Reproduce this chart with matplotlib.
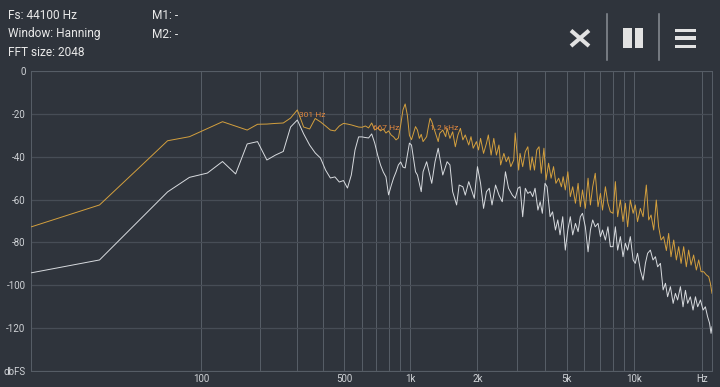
import numpy as np
import matplotlib
matplotlib.use("Agg")
import matplotlib.pyplot as plt
from matplotlib.patches import Rectangle
from matplotlib.lines import Line2D

# ---------------- data ----------------
FS = 44100
NFFT = 2048

orange_bins = list(range(0, 48)) + [
    48, 49, 50, 51, 52, 53, 55, 56, 57, 58, 60, 62, 63, 65, 67, 68, 70, 72, 74, 76, 78, 80,
    82, 85, 87, 89, 92, 94, 96, 99, 102, 104, 107, 110, 113, 116, 118, 122, 125, 128,
    131, 135, 137, 142, 144, 148, 152, 156, 160, 163, 167, 171, 175, 179, 184, 188,
    193, 198, 203, 208, 214, 220, 224, 229, 235, 241, 247, 254, 261, 267, 273, 281,
    289, 296, 303, 311, 320, 328, 335, 345, 354, 363, 373, 382, 391, 402, 413, 423,
    433, 445, 458, 468, 479, 493, 507, 524, 537, 550, 565, 580, 594, 609, 625, 643,
    658, 674, 693, 712, 729, 747, 767, 788, 807, 827, 849, 873, 894, 916, 941, 967,
    990, 1007, 1024]
orange_db = [
    -72.7, -62.5, -45.0, -32.5, -30.6, -26.8, -23.6, -25.7, -27.5, -24.8,
    -24.7, -24.4, -24.2, -21.9, -18.1, -26.1, -27.0, -22.1, -23.7, -25.6,
    -27.5, -27.9, -25.6, -24.4, -24.7, -25.1, -25.6, -26.1, -26.2, -25.6,
    -26.5, -24.2, -27.5, -26.5, -27.9, -27.0, -28.9, -27.9, -29.8, -30.7,
    -32.1, -31.2, -25.1, -18.1, -15.3, -20.5, -30.0, -32.0,
    -29.0, -25.9, -27.5, -31.4, -29.5, -32.9, -30.6, -26.0, -22.0, -23.5, -28.3, -32.9,
    -29.0, -27.5, -30.6, -26.7, -31.4, -28.3, -35.3, -29.8, -26.7, -32.1, -29.8,
    -34.5, -30.6, -36.0, -32.9, -36.8, -31.4, -38.4, -33.7, -29.8, -39.2, -31.4,
    -39.2, -34.5, -43.8, -38.4, -42.3, -40.0, -44.6, -41.5, -28.9, -46.2, -38.4,
    -44.6, -37.6, -35.3, -46.2, -40.0, -46.2, -36.8, -35.3, -47.7, -36.0, -50.8,
    -43.0, -50.0, -44.6, -52.4, -50.0, -54.0, -49.3, -55.5, -47.0, -58.6, -54.0,
    -61.7, -52.4, -63.3, -55.5, -64.1, -50.0, -62.5, -54.0, -47.7, -63.3, -57.1,
    -64.9, -54.0, -61.7, -65.7, -66.4, -51.6, -68.0, -60.2, -70.3, -61.7, -72.7,
    -60.2, -66.4, -62.5, -70.3, -64.1, -68.0, -53.2, -69.5, -67.2, -74.2, -60.2,
    -72.7, -78.9, -77.3, -83.8, -75.8, -86.7, -78.9, -88.2, -82.0, -89.8, -82.0,
    -91.4, -83.6, -90.6, -85.9, -92.9, -88.2, -93.7, -93.7, -95.2, -96.0, -99.1,
    -103.8]

white_bins = list(range(0, 48)) + [
    49, 50, 52, 53, 55, 58, 60, 62, 65, 68, 70, 72, 75, 77, 80, 82, 85, 88, 90, 93, 96,
    99, 102, 105, 108, 112, 116, 120, 124, 128, 133, 137, 141, 144, 148, 152, 156,
    160, 164, 168, 173, 177, 181, 186, 190, 196, 201, 207, 212, 217, 223, 229, 235,
    241, 247, 254, 261, 267, 273, 281, 289, 296, 303, 311, 320, 328, 335, 345, 354,
    363, 373, 382, 391, 402, 413, 423, 433, 445, 458, 468, 479, 493, 507, 519, 531,
    546, 561, 575, 588, 605, 622, 637, 651, 670, 689, 705, 721, 742, 762, 781, 799,
    821, 844, 865, 885, 910, 935, 957, 979, 999, 1014, 1024]
white_db = [
    -94.2, -88.2, -69.6, -56.4, -49.6, -47.6, -42.2, -48.0, -34.0, -32.9,
    -41.5, -39.2, -37.5, -26.1, -22.8, -29.3, -34.5, -38.2, -40.6, -46.2,
    -49.9, -49.4, -51.8, -51.1, -54.6, -48.5, -36.8, -30.7, -30.7, -31.0,
    -31.2, -29.3, -33.6, -39.2, -43.8, -47.1, -49.4, -57.8, -53.6, -49.9,
    -47.1, -43.8, -42.4, -44.8, -45.2, -39.2, -33.6, -34.5,
    -47.0, -48.5, -56.3, -47.0, -42.3, -52.4, -42.3, -36.0, -48.5, -42.3, -43.8,
    -56.3, -62.5, -53.2, -54.0, -57.9, -51.6, -56.3, -59.4, -44.6, -52.4, -64.1,
    -56.3, -54.7, -62.5, -53.2, -57.9, -61.0, -47.0, -54.7, -57.9, -59.4, -54.7,
    -54.0, -68.0, -54.7, -57.1, -56.3, -58.6, -54.7, -64.9, -61.0, -66.4, -52.4,
    -54.0, -68.0, -65.7, -74.2, -69.5, -76.5, -68.0, -83.6, -74.2, -68.0, -76.5,
    -71.1, -75.0, -68.0, -66.4, -72.7, -84.4, -74.2, -69.5, -72.7, -71.1, -77.3,
    -74.2, -78.9, -72.7, -82.0, -82.0, -72.7, -83.6, -77.3, -86.7, -80.4, -83.6,
    -77.3, -88.2, -89.8, -85.1, -92.9, -97.6, -89.8, -85.1, -83.6, -88.2, -86.7,
    -91.4, -89.8, -102.2, -99.1, -105.4, -100.7, -108.5, -103.8, -106.9, -100.7,
    -110.1, -102.4, -108.5, -105.4, -111.6, -105.4, -110.1, -106.9, -111.6, -110.1,
    -114.7, -117.8, -122.5, -119.4]

peak_text = ["301 Hz", "667 Hz", "1.2 kHz"]
peak_freq = [301, 667, 1206]
peak_text_db = [-20.5, -26.4, -26.7]

x_tick_vals = [100, 500, 1000, 2000, 5000, 10000, 20000]
x_tick_labels = ["100", "500", "1k", "2k", "5k", "10k", "Hz"]
x_grid_vals = list(range(100, 1000, 100)) + list(range(1000, 10001, 1000)) + [20000]
y_tick_vals = [0, -20, -40, -60, -80, -100, -120, -140]
y_tick_labels = ["0", "-20", "-40", "-60", "-80", "-100", "-120", "dbFS"]

header_left = ["Fs: 44100 Hz", "Window: Hanning", "FFT size: 2048"]
header_mid = ["M1: -", "M2: -"]

# ---------------- style ----------------
BG = "#2f343c"
HGRID = "#474d56"
VGRID = "#565d66"
ORANGE = "#d4a03e"
WHITE = "#d8dbdf"
LABEL = "#cfd2d6"
PEAKC = "#e0873e"

plt.rcParams["font.family"] = ["Roboto", "DejaVu Sans"]

W, H = 720, 387
fig = plt.figure(figsize=(W / 100, H / 100), dpi=100, facecolor=BG)

left, right, top, bottom = 31.5, 712.0, 71.2, 370.8
ax = fig.add_axes([left / W, 1 - bottom / H, (right - left) / W, (bottom - top) / H])
ax.set_facecolor(BG)

BINW = FS / NFFT
fwd = lambda f: np.log10(np.maximum(f, 0) + BINW)
inv = lambda x: 10 ** x - BINW
ax.set_xscale("function", functions=(fwd, inv))
ax.set_xlim(0, FS / 2)
ax.set_ylim(-140, 0)

of = np.array(orange_bins) * BINW
wf = np.array(white_bins) * BINW
ax.plot(of, orange_db, color=ORANGE, lw=0.7, zorder=3)
ax.plot(wf, white_db, color=WHITE, lw=0.7, zorder=4)

for f in x_grid_vals:
    ax.axvline(f, color=VGRID, lw=0.75, zorder=1)
for y in y_tick_vals:
    ax.axhline(y, color=HGRID, lw=0.9, zorder=1)

ax.set_xticks(x_tick_vals)
ax.set_xticklabels(x_tick_labels)
ax.xaxis.set_minor_locator(matplotlib.ticker.NullLocator())
ax.set_yticks(y_tick_vals)
ax.set_yticklabels(y_tick_labels)
ax.tick_params(axis="both", length=0, labelsize=7, labelcolor=LABEL)
ax.tick_params(axis="x", pad=2.5)
ax.tick_params(axis="y", pad=4.3)
for s in ax.spines.values():
    s.set_color(VGRID)
    s.set_linewidth(0.75)

for t, f, d in zip(peak_text, peak_freq, peak_text_db):
    ax.annotate(t, xy=(f, d), xytext=(1, 0), textcoords="offset points",
                ha="left", va="center", fontsize=6, color=PEAKC, zorder=5)

# ---------------- header overlay ----------------
ov = fig.add_axes([0, 0, 1, 1], facecolor="none")
ov.set_xlim(0, W)
ov.set_ylim(H, 0)
ov.axis("off")

for i, t in enumerate(header_left):
    ov.text(8, 19 + i * 18.5, t, fontsize=8.6, color="#e8e8e8", ha="left", va="baseline")
for i, t in enumerate(header_mid):
    ov.text(152, 19 + i * 18.5, t, fontsize=8.6, color="#e8e8e8", ha="left", va="baseline")

ICON = "#e2e2e2"
SEP = "#8a8f96"
ov.add_line(Line2D([571, 589], [30.5, 46], color=ICON, lw=2.9, solid_capstyle="butt"))
ov.add_line(Line2D([571, 589], [46, 30.5], color=ICON, lw=2.9, solid_capstyle="butt"))
ov.add_line(Line2D([606.7, 606.7], [14, 60], color=SEP, lw=1.1))
ov.add_line(Line2D([659, 659], [14, 60], color=SEP, lw=1.1))
ov.add_patch(Rectangle((622.7, 28.3), 9, 20, color=ICON, lw=0))
ov.add_patch(Rectangle((635, 28.3), 8.3, 20, color=ICON, lw=0))
for yy in (28.5, 36.3, 44.5):
    ov.add_patch(Rectangle((675, yy), 20.7, 3.4, color=ICON, lw=0))

fig.savefig("out.png", dpi=100, facecolor=BG)
